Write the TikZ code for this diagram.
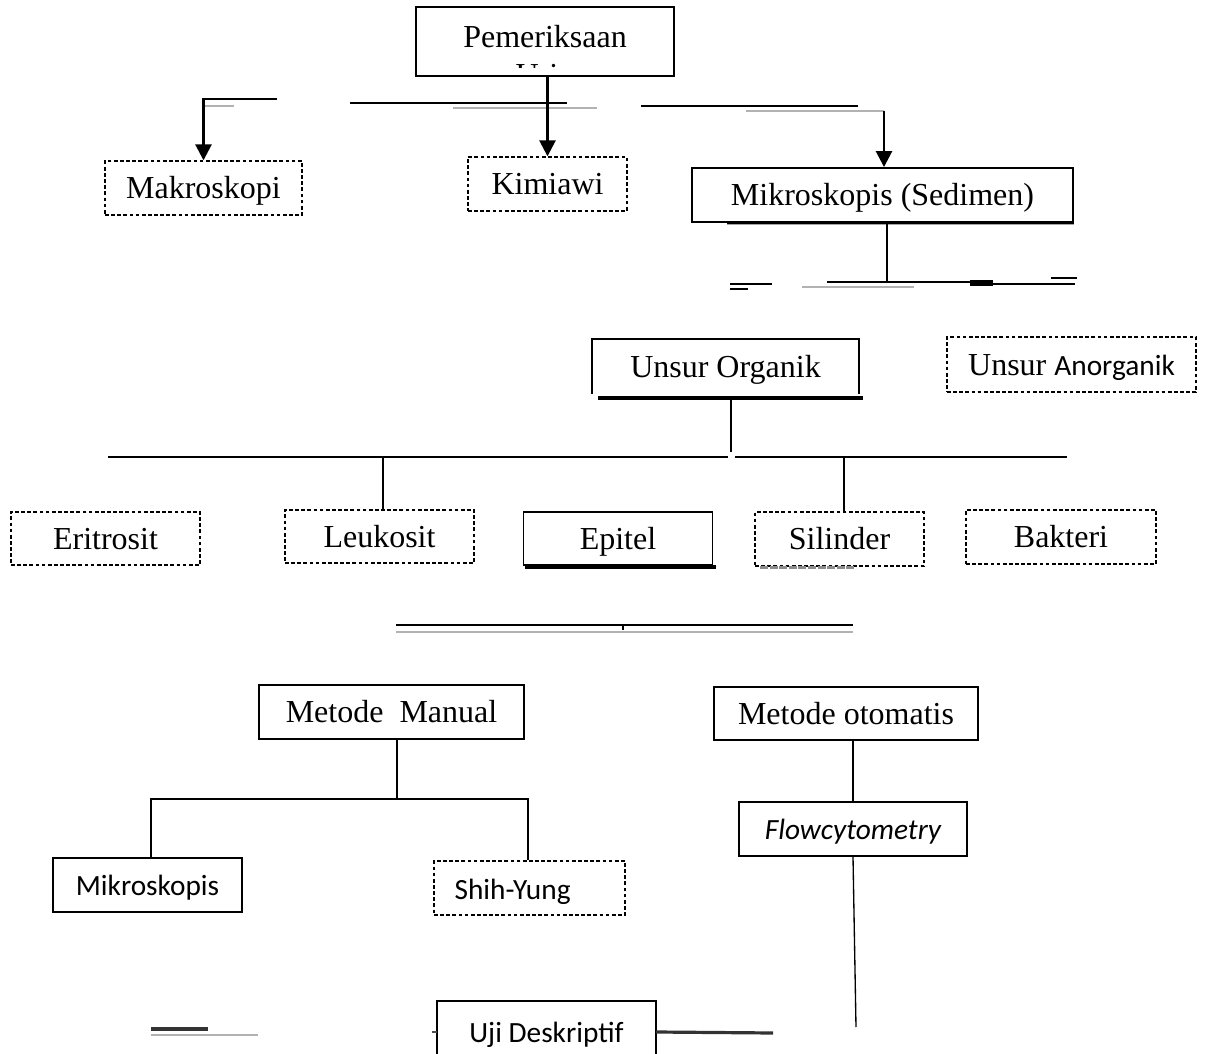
\documentclass[tikz,border=0pt]{standalone}
\usepackage{fontspec}
\setmainfont{Liberation Serif}
\newfontfamily\calibri{Carlito}
\usetikzlibrary{arrows.meta}

\newcommand{\px}{0.375pt}

\tikzset{
	kotak/.style 2 args={draw, line width=0.7pt, inner sep=0pt,
		minimum width=#1*\px, minimum height=#2*\px,
		text height=0.8em, text depth=0pt,
		font=\fontsize{12}{14}\selectfont},
	putus/.style 2 args={kotak={#1}{#2}, line width=0.5pt,
		dash pattern=on 1.4pt off 0.9pt},
	kecil/.style={font=\calibri\fontsize{11}{13}\selectfont},
	garis/.style={line width=1pt},
	abu/.style={line width=1pt, black!30},
	tipis/.style={line width=0.5pt},
	panah/.style={garis, -{Triangle[length=6pt,width=6pt]}},
}

\begin{document}
\begin{tikzpicture}[x=\px, y=-\px]
	
	\useasboundingbox (0,0) rectangle (1206,1054);
	
	% Pemeriksaan
	\node[kotak={258}{69}] (pem) at (545,41.5) {};
	\node[anchor=base, font=\fontsize{12}{14}\selectfont] (pemteks) at (545,48) {Pemeriksaan};
	\begin{scope}
		\clip (500,63) rectangle (600,68);
		\node[anchor=base, font=\fontsize{12}{14}\selectfont] (urin) at (545,86) {Urin};
	\end{scope}
	
	% Baris pertama
	\node[putus={197}{54}] (makro) at (203.5,188) {Makroskopi};
	\node[putus={159}{54}] (kimia) at (547.5,184) {Kimiawi};
	\node[kotak={381}{54}] (sedimen) at (882.5,195) {Mikroskopis (Sedimen)};
	
	% Garis atas (terputus)
	\coordinate (kiri) at (277,99);
	\coordinate (kanan) at (884,111);
	\draw[panah] (kiri) -| (makro.north);
	\draw[abu] (205,106) -- (234,106);
	\draw[garis] (350,103) -- (567,103);
	\draw[abu] (453,108) -- (597,108);
	\draw[panah] (pem.south -| kimia.north) -- (kimia.north);
	\draw[garis] (641,106) -- (858,106);
	\draw[abu] (746,111) -- (kanan);
	\draw[panah] (kanan) -- (kanan |- sedimen.north);
	
	% Bayangan bawah sedimen
	\draw[garis] (727,223) -- (sedimen.south east);
	
	% Cabang sedimen
	\coordinate (cabang) at (887,282);
	\draw[garis] (cabang |- sedimen.south) -- (cabang);
	\draw[garis] (827,282) -- (993,282);
	\draw[line width=2pt] (970,283) -- (993,283);
	\draw[garis] (993,284) -- (1075,284);
	\draw[garis] (1051,278) -- (1077,278);
	\draw[abu] (802,287) -- (914,287);
	\draw[garis] (730,284) -- (772,284);
	\draw[garis] (730,289) -- (748,289);
	
	% Unsur
	\node[kotak={265}{53}, draw=none] (organik) at (725.5,366.5) {Unsur Organik};
	\draw[line width=0.7pt] (organik.south west) |- (organik.north east) -- (organik.south east);
	\draw[line width=1.6pt] (598,398) -- (863,398);
	\node[putus={249}{55}] (anorganik) at (1071.5,364.5) {Unsur {\calibri\fontsize{11}{13}\selectfont Anorganik}};
	
	% Garis cabang organik
	\coordinate (bus) at (731,452);
	\draw[garis] (bus |- 0,398) -- (bus);
	\draw[garis] (108,457) -- (728,457);
	\draw[garis] (735,457) -- (1067,457);
	
	% Baris kedua
	\node[putus={189}{53}] (eritrosit) at (105.5,538.5) {Eritrosit};
	\node[putus={189}{53}] (leukosit) at (379.5,536.5) {Leukosit};
	\node[kotak={189}{53}] (epitel) at (618,538.5) {Epitel};
	\node[putus={169}{54}] (silinder) at (839.5,539) {Silinder};
	\node[putus={190}{54}] (bakteri) at (1061,537) {Bakteri};
	
	\coordinate (bL) at (383,457);
	\coordinate (bS) at (844,457);
	\draw[garis] (bL) -- (bL |- leukosit.north);
	\draw[garis] (bS) -- (bS |- silinder.north);
	
	% Bayangan
	\draw[line width=1.5pt] (525,567) -- (716,567);
	\draw[line width=1.2pt, black!45, dash pattern=on 3pt off 0.6pt] (760,567.5) -- (856,567.5);
	
	% Garis ganda
	\draw[garis] (396,625) -- (853,625);
	\draw[abu] (396,632) -- (853,632);
	\draw[garis] (623,625) -- (623,630);
	
	% Metode
	\node[kotak={265}{54}] (manual) at (391.5,712) {Metode~~Manual};
	\node[kotak={264}{53}] (otomatis) at (846,713.5) {Metode otomatis};
	
	% Cabang manual
	\node[kotak={189}{54}, kecil] (mikro) at (147.5,885) {Mikroskopis};
	\node[putus={191}{54}] (shih) at (529.5,888) {};
	\node[kecil, anchor=base west, inner sep=0pt] (shihteks) at (454,899) {Shih-Yung};
	\coordinate (bM) at (397,799);
	\coordinate (kiriM) at (151,799);
	\coordinate (kananM) at (528,799);
	\draw[line width=0.8pt] (bM |- manual.south) -- (bM);
	\draw[line width=0.8pt] (kiriM |- mikro.north) -- (kiriM) -- (kananM) -- (kananM |- shih.north);
	
	% Cabang otomatis
	\node[kotak={228}{54}, kecil, font=\calibri\itshape\fontsize{11}{13}\selectfont] (flow) at (853,829) {Flowcytometry};
	\draw[line width=0.8pt] (otomatis.south -| flow.north) -- (flow.north);
	\coordinate (ujung) at (856,1027);
	\draw[tipis] (flow.south) -- (ujung);
	
	% Uji Deskriptif
	\node[kotak={217}{60}, kecil, draw=none] (uji) at (546.5,1032) {Uji Deskriptif};
	\draw[line width=0.7pt] (uji.south west) |- (uji.north east) -- (uji.south east);
	\coordinate (ujikanan) at (773,1033);
	\draw[line width=1.2pt, black!80] (uji.east) -- (ujikanan);
	\draw[line width=1pt, black!70] (uji.west) -- ++(-5,0);
	\draw[line width=1.4pt, black!80] (151,1029) -- (208,1029);
	\draw[abu] (151,1035) -- (258,1035);
	
\end{tikzpicture}
\end{document}
